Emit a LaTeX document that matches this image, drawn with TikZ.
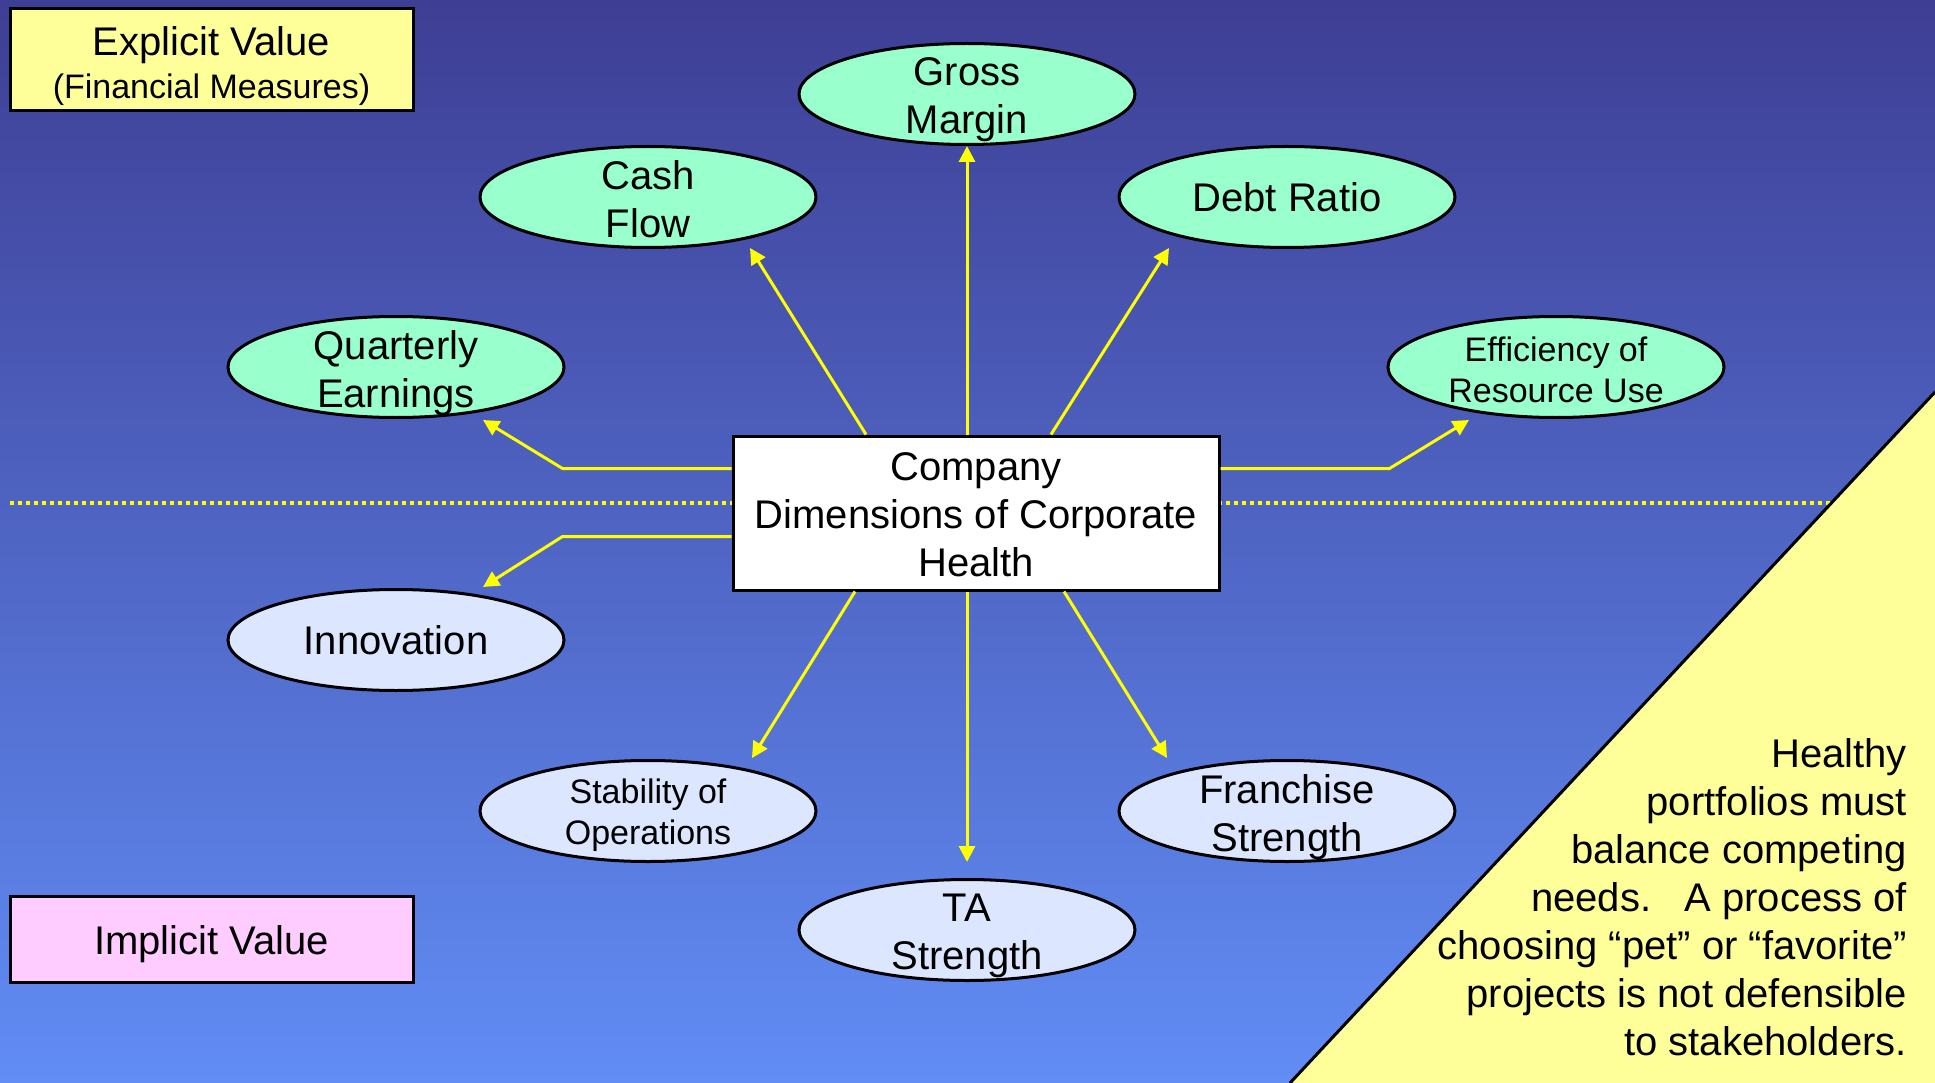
\documentclass[tikz,border=0pt]{standalone}
\usepackage{fontspec}
\setmainfont{Liberation Sans}
\usetikzlibrary{shapes.geometric,arrows.meta,calc}
\definecolor{bgtop}{RGB}{62,62,148}
\definecolor{bgbot}{RGB}{97,141,245}
\definecolor{mint}{RGB}{153,255,204}
\definecolor{mist}{RGB}{221,230,255}
\definecolor{paleyellow}{RGB}{255,255,153}
\definecolor{palepink}{RGB}{255,204,255}
\definecolor{linkyellow}{RGB}{255,255,0}

\begin{document}
\begin{tikzpicture}[x=1pt,y=-1pt,
  bigtext/.style={font=\fontsize{40pt}{48pt}\selectfont, align=center, inner sep=0pt},
  smalltext/.style={font=\fontsize{34pt}{41pt}\selectfont, align=center, inner sep=0pt},
  twoline/.style={yshift=-6pt},
  oval/.style={ellipse, draw=black, line width=3pt, minimum width=336pt, minimum height=101pt, inner sep=0pt},
  explicit/.style={oval, fill=mint},
  implicit/.style={oval, fill=mist},
  panel/.style={rectangle, draw=black, line width=3pt, inner sep=0pt},
  link/.style={draw=linkyellow, line width=3pt, -{Triangle[length=16pt,width=16pt]}},
  divider/.style={draw=linkyellow, line width=4pt, dash pattern=on 4pt off 4pt},
]
\useasboundingbox (0,0) rectangle (1935,1083);

% backdrop
\shade[top color=bgtop, bottom color=bgbot] (0,0) rectangle (1935,1083);

% boundary between explicit and implicit value
\coordinate (divL) at (10,503);
\coordinate (divR) at (1836,503);
\draw[divider] (divL) -- (divR);

% corner note area
\fill[paleyellow] (1935,392) -- (1290,1083) -- (1935,1083) -- cycle;
\draw[line width=3pt] (1935,392) -- (1290,1083);

% legend panels
\node[panel, fill=paleyellow, minimum width=403pt, minimum height=102pt,
      label={[bigtext, yshift=-6pt]center:{Explicit Value\\[-5pt]\fontsize{34pt}{41pt}\selectfont (Financial Measures)}}]
      (expl) at (211.5,60) {};
\node[panel, fill=palepink, minimum width=403pt, minimum height=86pt,
      label={[bigtext, yshift=-5pt]center:{Implicit Value}}]
      (impl) at (211.5,939) {};

% hub
\node[panel, fill=white, minimum width=486pt, minimum height=154pt,
      label={[bigtext, yshift=-2pt]center:{Company\\Dimensions of Corporate\\Health}}]
      (hub) at (976,513) {};

% financial measures
\node[explicit, label={[bigtext, twoline]center:{Gross\\Margin}}] (gm) at (967,94) {};
\node[explicit, label={[bigtext, yshift=-2pt]center:{Cash\\Flow}}] (cf) at (648,197) {};
\node[explicit, label={[bigtext]center:{Debt Ratio}}] (dr) at (1287,197) {};
\node[explicit, label={[bigtext, twoline]center:{Quarterly\\Earnings}}] (qe) at (396,367) {};
\node[explicit, label={[smalltext, yshift=-3pt]center:{Efficiency of\\Resource Use}}] (eff) at (1556,367) {};

% implicit measures
\node[implicit, label={[bigtext]center:{Innovation}}] (inn) at (396,640) {};
\node[implicit, label={[smalltext, yshift=-4pt]center:{Stability of\\Operations}}] (so) at (648,811) {};
\node[implicit, label={[bigtext, twoline]center:{Franchise\\Strength}}] (fs) at (1287,811) {};
\node[implicit, label={[bigtext, twoline]center:{TA\\Strength}}] (ta) at (967,930) {};

% connectors
\draw[link] (hub.north -| gm.south) -- (gm.south);
\draw[link] ($(hub.north)+(-110,0)$) -- ($(cf.center)+(102,51)$);
\draw[link] ($(hub.north)+(75,0)$) -- ($(dr.center)+(-118,51)$);
\draw[link] ($(hub.north west)+(0,34)$) -- ++(-169,0) -- ($(qe.center)+(87,53)$);
\draw[link] ($(hub.north east)+(0,34)$) -- ++(169,0) -- ($(eff.center)+(-87,53)$);
\draw[link] ($(hub.north west)+(0,102)$) -- ++(-169,0) -- ($(inn.center)+(87,-53)$);
\draw[link] ($(hub.south)+(-121,0)$) -- ($(so.center)+(104,-53)$);
\draw[link] ($(hub.south)+(88,0)$) -- ($(fs.center)+(-120,-53)$);
\draw[link] (hub.south -| ta.north) -- ($(ta.north)+(0,-16)$);

% note
\node[bigtext, align=right, anchor=north east] (note) at (1907,738)
  {Healthy\\portfolios must\\balance competing\\needs.\ \ \ A process of\\choosing “pet” or “favorite”\\projects is not defensible\\to stakeholders.};
\end{tikzpicture}
\end{document}
